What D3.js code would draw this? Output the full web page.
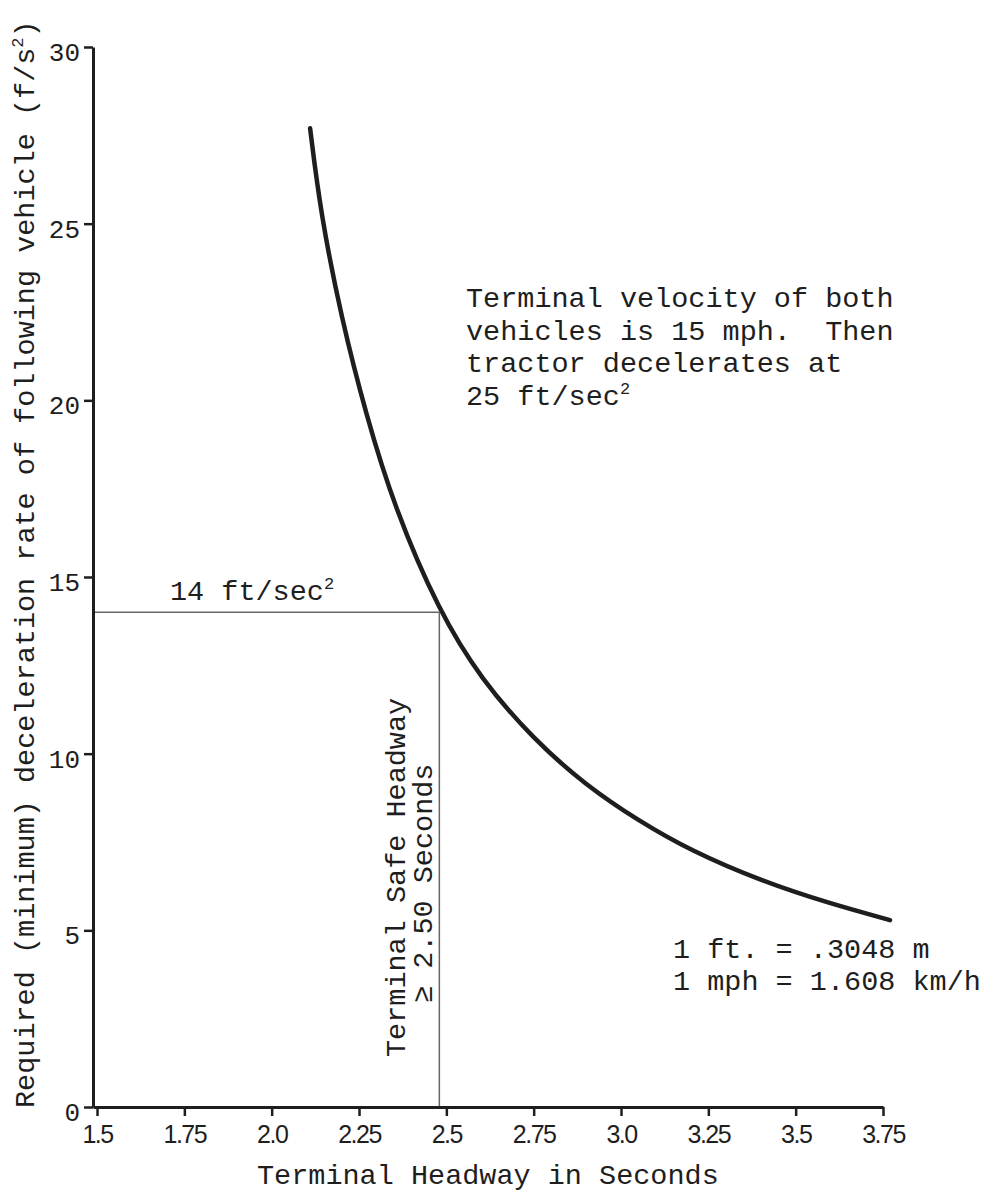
<!DOCTYPE html>
<html>
<head>
<meta charset="utf-8">
<script src="https://cdn.jsdelivr.net/npm/d3@7"></script>
<style>
  html, body { margin: 0; padding: 0; background: #fff; }
  svg { display: block; }
  text { font-family: "Liberation Mono", "DejaVu Sans Mono", monospace; fill: #1e1e1e; white-space: pre; }
</style>
</head>
<body>
<svg id="chart" width="985" height="1192"></svg>
<script>
// ---- data ----
const headway = [2.11, 2.14, 2.20, 2.27, 2.35, 2.48, 2.60, 2.75, 2.90, 3.05, 3.20, 3.40, 3.60, 3.77];
const decel   = [27.7, 25.3, 22.3, 19.6, 17.0, 14.0, 12.1, 10.4, 9.1, 8.1, 7.25, 6.4, 5.75, 5.29];
const xTickValues = [1.5, 1.75, 2.0, 2.25, 2.5, 2.75, 3.0, 3.25, 3.5, 3.75];
const xTickLabels = ["1.5", "1.75", "2.0", "2.25", "2.5", "2.75", "3.0", "3.25", "3.5", "3.75"];
const yTickValues = [0, 5, 10, 15, 20, 25, 30];
const refDecel = 14;       // ft/sec^2
const refHeadway = 2.48;   // seconds

const noteLines = ["Terminal velocity of both", "vehicles is 15 mph.  Then", "tractor decelerates at", "25 ft/sec"];
const unitLines = ["1 ft. = .3048 m", "1 mph = 1.608 km/h"];

// ---- scales ----
const svg = d3.select("#chart");
const x = d3.scaleLinear().domain([1.4885, 3.75]).range([93, 883]);
const y = d3.scaleLinear().domain([0, 30]).range([1107, 47]);
const ink = "#1e1e1e";

// reference lines (thin)
svg.append("line")
  .attr("x1", x.range()[0]).attr("x2", x(refHeadway))
  .attr("y1", y(refDecel)).attr("y2", y(refDecel))
  .attr("stroke", "#666").attr("stroke-width", 1.5);
svg.append("line")
  .attr("x1", x(refHeadway)).attr("x2", x(refHeadway))
  .attr("y1", y(refDecel)).attr("y2", y(0))
  .attr("stroke", "#666").attr("stroke-width", 1.5);

// y axis
const yAxis = svg.append("g")
  .attr("transform", `translate(${x.range()[0]},0)`)
  .call(d3.axisLeft(y).tickValues(yTickValues).tickSize(9).tickSizeOuter(0).tickPadding(4).tickFormat(d3.format("d")));
yAxis.select(".domain").attr("stroke", ink).attr("stroke-width", 3);
yAxis.selectAll(".tick line").attr("stroke", ink).attr("stroke-width", 2.5);
yAxis.selectAll(".tick text")
  .style("font-family", '"Liberation Mono", monospace')
  .style("font-size", "26px").attr("dy", "0.52em");

// x axis
const xAxis = svg.append("g")
  .attr("transform", `translate(0,${y(0)})`)
  .call(d3.axisBottom(x).tickValues(xTickValues).tickSize(9).tickSizeOuter(0).tickPadding(10).tickFormat((d, i) => xTickLabels[i]));
xAxis.select(".domain").attr("stroke", ink).attr("stroke-width", 3);
xAxis.selectAll(".tick line").attr("stroke", ink).attr("stroke-width", 2.5);
xAxis.selectAll(".tick text")
  .style("font-family", '"Liberation Sans", Arial, sans-serif')
  .style("font-size", "25px")
  .style("letter-spacing", "-1.5px")
  .attr("y", 36).attr("dy", null);

// curve
svg.append("path")
  .datum(headway.map((h, i) => [h, decel[i]]))
  .attr("fill", "none")
  .attr("stroke", ink)
  .attr("stroke-width", 4.5)
  .attr("stroke-linecap", "round")
  .attr("d", d3.line().x(d => x(d[0])).y(d => y(d[1])).curve(d3.curveBasis));

const fs = 28.5;

// y axis title
const yt = svg.append("text")
  .attr("transform", "translate(34,1108) rotate(-90)")
  .attr("text-anchor", "start")
  .style("font-size", fs + "px");
yt.append("tspan").text("Required (minimum) deceleration rate of following vehicle (f/s");
yt.append("tspan").attr("dy", -11).style("font-size", "17px").text("2");
yt.append("tspan").attr("dy", 11).text(")");

// x axis title
svg.append("text")
  .attr("x", 257).attr("y", 1184)
  .style("font-size", fs + "px")
  .text("Terminal Headway in Seconds");

// note
const note = svg.append("text").attr("x", 466).attr("y", 307).style("font-size", fs + "px");
noteLines.forEach((l, i) => {
  note.append("tspan").attr("x", 466).attr("y", 307 + i * 32.7).text(l);
});
note.append("tspan").attr("dy", -11).style("font-size", "17px").text("2");

// 14 ft/sec^2
const lab14 = svg.append("text").attr("x", 170).attr("y", 600).style("font-size", fs + "px");
lab14.append("tspan").text(refDecel + " ft/sec");
lab14.append("tspan").attr("dy", -11).style("font-size", "17px").text("2");

// vertical labels
svg.append("text")
  .attr("transform", "translate(405,1057) rotate(-90)")
  .style("font-size", fs + "px")
  .text("Terminal Safe Headway");
svg.append("text")
  .attr("transform", "translate(432,1003) rotate(-90)")
  .style("font-size", fs + "px")
  .text("\u2265 2.50 Seconds");

// unit conversion
unitLines.forEach((l, i) => {
  svg.append("text")
    .attr("x", 673).attr("y", 958 + i * 32)
    .style("font-size", fs + "px")
    .text(l);
});
</script>
</body>
</html>
